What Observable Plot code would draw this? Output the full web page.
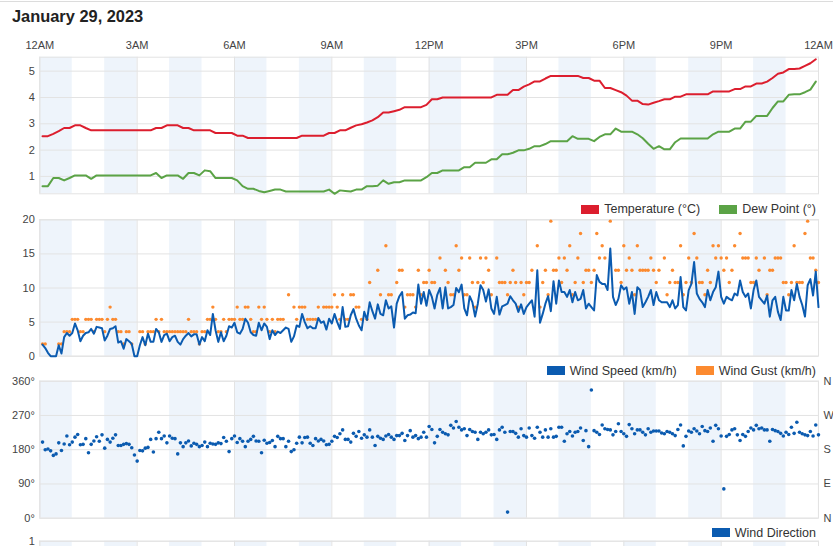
<!DOCTYPE html>
<html>
<head>
<meta charset="utf-8">
<script src="https://cdn.jsdelivr.net/npm/d3@7"></script>
<script src="https://cdn.jsdelivr.net/npm/@observablehq/plot@0.6"></script>
<style>
  body { margin: 0; background: #fff; font-family: "Liberation Sans", Arial, sans-serif; }
  #chart { position: relative; width: 833px; height: 546px; overflow: hidden; background: #fff; }
  #topline { position: absolute; left: 0; top: 1px; width: 833px; height: 1px; background: #dcdcdc; }
  #title { position: absolute; left: 12px; top: 7px; font-size: 16.4px; font-weight: bold; color: #222; }
  .panel { position: absolute; left: 0; }
  .panel svg { overflow: visible; }
  .legend { position: absolute; right: 17px; display: flex; align-items: center; font-size: 12.5px; color: #333; line-height: 1; }
  .legend .item { display: flex; align-items: center; margin-left: 19px; }
  .legend .sw { width: 18px; height: 9px; margin-right: 5px; }
</style>
</head>
<body>
<div id="chart">
  <div id="topline"></div>
  <div id="title">January 29, 2023</div>
</div>
<script>
// Hour ticks along the day and their labels
const hourTicks = [0, 3, 6, 9, 12, 15, 18, 21, 24];
const hourLabels = ["12AM", "3AM", "6AM", "9AM", "12PM", "3PM", "6PM", "9PM", "12AM"];
// Start of each shaded hour band
const shadedHours = [0, 2, 4, 6, 8, 10, 12, 14, 16, 18, 20, 22];

// Temperature and dew point (°C), every 10 minutes from 00:05
const temperature = [
  2.53, 2.53, 2.62, 2.72, 2.84, 2.84,
  2.94, 2.94, 2.84, 2.75, 2.75, 2.75,
  2.75, 2.75, 2.75, 2.75, 2.75, 2.75,
  2.75, 2.75, 2.75, 2.84, 2.84, 2.94,
  2.94, 2.94, 2.84, 2.84, 2.75, 2.75,
  2.75, 2.75, 2.65, 2.65, 2.65, 2.65,
  2.55, 2.55, 2.46, 2.46, 2.46, 2.46,
  2.46, 2.46, 2.46, 2.46, 2.46, 2.46,
  2.55, 2.55, 2.55, 2.55, 2.55, 2.65,
  2.65, 2.75, 2.75, 2.85, 2.94, 2.98,
  3.05, 3.13, 3.25, 3.43, 3.43, 3.48,
  3.53, 3.63, 3.63, 3.63, 3.63, 3.72,
  3.93, 3.93, 4.0, 4.0, 4.0, 4.0,
  4.0, 4.0, 4.0, 4.0, 4.0, 4.0,
  4.1, 4.1, 4.1, 4.28, 4.28, 4.41,
  4.5, 4.61, 4.61, 4.72, 4.82, 4.82,
  4.82, 4.82, 4.82, 4.82, 4.74, 4.74,
  4.64, 4.64, 4.36, 4.36, 4.28, 4.2,
  4.07, 3.88, 3.88, 3.75, 3.73, 3.8,
  3.86, 3.93, 3.93, 4.03, 4.03, 4.12,
  4.12, 4.12, 4.12, 4.12, 4.23, 4.23,
  4.23, 4.23, 4.32, 4.32, 4.42, 4.42,
  4.53, 4.53, 4.6, 4.74, 4.9, 4.95,
  5.08, 5.08, 5.1, 5.2, 5.3, 5.45
];
const dewPoint = [
  0.63, 0.63, 0.94, 0.94, 0.85, 0.94,
  1.04, 1.04, 1.04, 0.91, 1.04, 1.04,
  1.04, 1.04, 1.04, 1.04, 1.04, 1.04,
  1.04, 1.04, 1.04, 1.13, 0.94, 1.04,
  1.04, 1.04, 0.91, 1.13, 1.13, 1.04,
  1.23, 1.2, 0.94, 0.94, 0.94, 0.94,
  0.85, 0.63, 0.53, 0.53, 0.45, 0.4,
  0.45, 0.5, 0.5, 0.43, 0.43, 0.43,
  0.43, 0.43, 0.43, 0.43, 0.43, 0.5,
  0.34, 0.47, 0.45, 0.43, 0.5, 0.5,
  0.63, 0.63, 0.65, 0.85, 0.72, 0.78,
  0.78, 0.85, 0.85, 0.85, 0.85, 0.97,
  1.13, 1.13, 1.23, 1.23, 1.23, 1.23,
  1.35, 1.35, 1.52, 1.52, 1.52, 1.65,
  1.65, 1.84, 1.84, 1.9, 1.99, 1.99,
  2.05, 2.15, 2.15, 2.23, 2.34, 2.34,
  2.34, 2.34, 2.53, 2.43, 2.43, 2.43,
  2.34, 2.5, 2.6, 2.6, 2.82, 2.7,
  2.7, 2.7, 2.6, 2.45, 2.24, 2.05,
  2.15, 2.03, 2.03, 2.3, 2.44, 2.44,
  2.44, 2.44, 2.44, 2.44, 2.6, 2.7,
  2.7, 2.7, 2.82, 2.82, 3.08, 3.08,
  3.3, 3.3, 3.3, 3.6, 3.85, 3.85,
  4.1, 4.12, 4.12, 4.2, 4.3, 4.6
];

// Wind speed and gust (km/h), every 5 minutes from 00:05; null = no gust reported
const windSpeed = [
  1.7, 1.2, 0.5, 0, 0, 0, 1.6, 0.4, 2.8, 3.4, 3.0, 3.4,
  4.8, 3.8, 2.2, 3.0, 3.4, 3.5, 4.0, 3.3, 4.3, 4.2, 4.1, 2.3,
  3.0, 4.0, 4.1, 4.4, 2.0, 2.2, 1.1, 2.5, 2.2, 1.8, 0, 0,
  1.6, 2.8, 1.6, 3.3, 2.1, 2.1, 4.0, 3.5, 2.1, 3.1, 3.3, 2.2,
  2.8, 3.0, 2.1, 1.7, 2.5, 3.0, 3.4, 2.9, 3.2, 3.2, 1.7, 2.8,
  2.2, 3.8, 3.1, 6.2, 3.8, 2.1, 3.5, 2.2, 3.0, 4.4, 4.2, 4.9,
  3.5, 3.3, 4.0, 5.5, 4.9, 3.5, 3.1, 3.0, 4.9, 3.8, 4.8, 4.3,
  2.5, 3.8, 3.1, 3.6, 3.4, 3.8, 4.2, 4.0, 2.1, 2.9, 4.5, 4.3,
  6.2, 5.0, 4.1, 4.4, 4.1, 4.1, 5.6, 4.9, 5.1, 3.9, 5.5, 4.8,
  6.2, 5.0, 4.0, 7.2, 4.3, 4.4, 6.0, 6.9, 5.5, 4.5, 3.8, 6.5,
  5.3, 7.9, 6.6, 5.5, 7.6, 6.2, 6.0, 8.2, 7.0, 7.3, 4.2, 7.7,
  8.8, 9.4, 5.5, 6.0, 6.1, 6.4, 6.3, 10.5, 7.7, 9.4, 7.4, 9.7,
  8.7, 7.0, 9.0, 10.0, 7.0, 10.1, 7.0, 7.2, 7.5, 10.0, 9.4, 10.5,
  7.0, 6.0, 8.8, 7.9, 5.8, 7.7, 10.4, 9.7, 8.0, 9.8, 7.0, 6.2,
  8.7, 6.1, 7.3, 7.5, 7.7, 8.8, 8.2, 7.7, 6.5, 7.6, 6.2, 7.2,
  7.7, 8.2, 5.8, 12.6, 4.9, 6.2, 7.7, 8.8, 6.6, 11.0, 7.7, 11.1,
  9.4, 9.4, 8.7, 9.7, 7.9, 9.4, 8.2, 8.4, 9.7, 7.0, 7.7, 7.2,
  6.7, 11.9, 10.9, 10.6, 10.6, 9.7, 15.8, 8.7, 7.5, 8.4, 10.4, 9.8,
  10.1, 7.7, 9.4, 6.2, 10.1, 9.7, 7.2, 7.9, 8.7, 9.7, 7.5, 9.4,
  8.2, 7.9, 7.9, 7.9, 7.2, 8.2, 7.0, 7.5, 11.6, 7.2, 6.7, 9.7,
  10.6, 13.8, 9.2, 8.4, 7.9, 7.2, 9.7, 8.2, 9.4, 10.1, 12.4, 8.7,
  7.7, 8.7, 8.4, 8.2, 9.2, 8.9, 11.1, 9.4, 8.7, 9.2, 7.0, 9.7,
  11.1, 8.7, 8.2, 7.7, 8.9, 5.8, 8.2, 8.7, 6.5, 5.3, 8.7, 6.7,
  6.7, 9.7, 8.2, 10.6, 8.7, 7.5, 5.8, 10.4, 11.3, 8.9, 12.4, 7.2
];
const windGust = [
  1.8, 1.8, null, null, null, null, 1.8, 1.8, 3.6, 3.6, 3.6, 5.4,
  5.4, 5.4, 3.6, 3.6, 5.4, 5.4, 5.4, 3.6, 5.4, 5.4, 5.4, 3.6,
  5.4, 7.2, 5.4, 5.4, 3.6, 3.6, 1.8, 3.6, 3.6, 1.8, null, null,
  3.6, 3.6, 1.8, 3.6, 3.6, 3.6, 5.4, 3.6, 5.4, 3.6, 3.6, 3.6,
  3.6, 3.6, 3.6, 3.6, 3.6, 3.6, 5.4, 3.6, 3.6, 3.6, 1.8, 3.6,
  3.6, 5.4, 5.4, 7.2, 5.4, 3.6, 3.6, 5.4, 3.6, 5.4, 5.4, 5.4,
  7.2, 5.4, 5.4, 7.2, 7.2, 5.4, 3.6, 3.6, 7.2, 5.4, 7.2, 5.4,
  3.6, 5.4, 3.6, 5.4, 5.4, 5.4, null, 9, null, 7.2, 5.4, 7.2,
  7.2, 7.2, 5.4, 5.4, 5.4, 5.4, 7.2, null, 7.2, 7.2, 7.2, 7.2,
  9, 7.2, 5.4, 9, 5.4, 5.4, 9, 9, 7.2, 7.2, 5.4, null,
  5.4, 10.8, null, null, 12.6, 9, null, 16.2, 9, 9, 5.4, 10.8,
  12.6, 12.6, 7.2, 9, 9, 9, 7.2, 12.6, 9, 10.8, 10.8, 12.6,
  10.8, 10.8, null, 14.4, null, 12.6, 10.8, 9, 9, 16.2, 12.6, 14.4,
  9, 9, 14.4, 10.8, 7.2, 10.8, 14.4, 10.8, 14.4, 12.6, 9, null,
  14.4, 10.8, 10.8, 10.8, 9, 10.8, 12.6, 10.8, 7.2, 10.8, 9, 10.8,
  10.8, 12.6, null, 16.2, 7.2, 10.8, 12.6, 9, 19.8, 12.6, 12.6, 14.4,
  10.8, 14.4, 12.6, 16.2, 9, 10.8, 14.4, 18, 10.8, 12.6, 12.6, 10.8,
  12.6, 18, 14.4, 16.2, 14.4, null, 19.8, null, 12.6, 12.6, 10.8, 16.2,
  12.6, 14.4, 12.6, 9, 16.2, 12.6, 12.6, 12.6, 12.6, 14.4, 12.6, 10.8,
  12.6, null, 14.4, 9, 10.8, 12.6, 10.8, 10.8, 16.2, 9, 10.8, 14.4,
  10.8, 18, 14.4, 10.8, 10.8, 9, 12.6, 10.8, 16.2, 14.4, 16.2, 14.4,
  12.6, 14.4, 10.8, 12.6, 16.2, null, 18, 14.4, 14.4, 14.4, 10.8, 10.8,
  14.4, 12.6, null, 14.4, 9, 12.6, 12.6, 14.4, 14.4, 14.4, 10.8, 10.8,
  9, 10.8, 16.2, 10.8, 10.8, 10.8, 18, 19.8, 14.4, 14.4, 12.6, 10.8
];

// Wind direction (degrees), every 5 minutes from 00:05
const windDirection = [
  200, 180, 182, 177, 165, 169, 198, 178, 195, 216, 193, 200,
  213, 220, 193, 194, 209, 172, 194, 203, 214, 202, 219, 184,
  207, 200, 210, 219, 191, 191, 194, 196, 194, 185, 166, 150,
  178, 177, 184, 186, 207, 174, 209, 226, 209, 216, 198, 216,
  210, 209, 169, 198, 188, 198, 203, 190, 197, 194, 188, 191,
  200, 188, 197, 195, 194, 198, 196, 212, 202, 175, 209, 216,
  199, 209, 202, 188, 202, 207, 215, 203, 202, 172, 205, 197,
  199, 204, 188, 215, 209, 209, 188, 202, 175, 180, 197, 213,
  198, 212, 213, 197, 191, 209, 203, 207, 203, 193, 194, 202,
  215, 212, 222, 232, 207, 207, 200, 223, 215, 228, 210, 219,
  213, 232, 213, 191, 215, 210, 207, 216, 220, 213, 207, 217,
  217, 223, 204, 217, 230, 213, 217, 209, 213, 226, 213, 241,
  233, 198, 215, 233, 226, 222, 219, 244, 237, 254, 239, 232,
  235, 217, 233, 228, 226, 207, 226, 222, 226, 232, 219, 220,
  207, 232, 239, 226, 16, 228, 228, 223, 213, 235, 217, 213,
  237, 217, 210, 239, 226, 213, 232, 213, 235, 213, 215, 239,
  239, 202, 222, 228, 216, 226, 228, 237, 204, 230, 188, 337,
  230, 226, 220, 245, 235, 233, 232, 219, 228, 248, 228, 222,
  215, 246, 235, 222, 232, 232, 226, 219, 235, 226, 229, 229,
  229, 224, 222, 228, 226, 222, 217, 233, 245, 190, 215, 229,
  226, 235, 229, 222, 241, 230, 228, 237, 202, 244, 235, 216,
  77, 215, 220, 232, 235, 219, 204, 220, 215, 228, 237, 232,
  244, 235, 237, 232, 232, 202, 233, 230, 228, 223, 216, 226,
  220, 239, 223, 252, 226, 222, 219, 217, 228, 216, 245, 219
];

const tempTicks = [1, 2, 3, 4, 5];
const windTicks = [0, 5, 10, 15, 20];
const dirTicks = [0, 90, 180, 270, 360];
const compassLabels = ["N", "E", "S", "W", "N"];

const colors = {
  temperature: "#dc1e2e",
  dewPoint: "#5ba346",
  windSpeed: "#0b5bb0",
  windGust: "#fc8a2f",
  direction: "#0b5bb0",
  band: "#eef4fb",
  grid: "#e3e3e3",
  text: "#444"
};

// hours since midnight for the 10-minute and 5-minute series
const t10 = (d, i) => (5 + 10 * i) / 60;
const t5 = (d, i) => (5 * (i + 1)) / 60;

const chart = document.getElementById("chart");
const W = 833, ML = 39.3, MR = 15;
const intFormat = d => String(d);

function background(yTicks) {
  return [
    Plot.rect(shadedHours, {x1: d => d, x2: d => d + 1, fill: colors.band}),
    Plot.gridX(hourTicks, {stroke: colors.grid, strokeOpacity: 1}),
    Plot.gridY(yTicks, {stroke: colors.grid, strokeOpacity: 1}),
    Plot.frame({stroke: colors.grid})
  ];
}

function place(svg, top) {
  const wrap = document.createElement("div");
  wrap.className = "panel";
  wrap.style.top = top + "px";
  wrap.appendChild(svg);
  chart.appendChild(wrap);
}

function legend(top, items) {
  const div = document.createElement("div");
  div.className = "legend";
  div.style.top = top + "px";
  for (const [label, color] of items) {
    const item = document.createElement("div");
    item.className = "item";
    const sw = document.createElement("span");
    sw.className = "sw";
    sw.style.background = color;
    const tx = document.createElement("span");
    tx.textContent = label;
    item.appendChild(sw);
    item.appendChild(tx);
    div.appendChild(item);
  }
  chart.appendChild(div);
}

const baseStyle = {fontSize: "11px", fontFamily: '"Liberation Sans", Arial, sans-serif', color: colors.text, background: "transparent", overflow: "visible"};

// Panel 1: temperature and dew point
place(Plot.plot({
  width: W, height: 194,
  marginLeft: ML, marginRight: MR, marginTop: 56.7, marginBottom: 0.7,
  style: baseStyle,
  x: {domain: [0, 24]},
  y: {domain: [0.34, 5.53]},
  marks: [
    ...background(tempTicks),
    Plot.axisX({anchor: "top", ticks: hourTicks, tickSize: 0, tickPadding: 8,
      tickFormat: d => hourLabels[hourTicks.indexOf(d)], style: {letterSpacing: "-0.5px"}}),
    Plot.axisY({ticks: tempTicks, tickSize: 0, tickPadding: 5, tickFormat: intFormat}),
    Plot.line(dewPoint, {x: t10, y: d => d, stroke: colors.dewPoint, strokeWidth: 2}),
    Plot.line(temperature, {x: t10, y: d => d, stroke: colors.temperature, strokeWidth: 2})
  ]
}), 0);
legend(203, [["Temperature (°C)", colors.temperature], ["Dew Point (°)", colors.dewPoint]]);

// Panel 2: wind speed line with gust dots
place(Plot.plot({
  width: W, height: 156.4,
  marginLeft: ML, marginRight: MR, marginTop: 19.3, marginBottom: 0.7,
  style: baseStyle,
  x: {domain: [0, 24], axis: null},
  y: {domain: [0, 20]},
  marks: [
    ...background(windTicks),
    Plot.axisY({ticks: windTicks, tickSize: 0, tickPadding: 5, tickFormat: intFormat}),
    Plot.dot(windGust, {x: t5, y: d => d, r: 1.7, fill: colors.windGust, stroke: "none"}),
    Plot.line(windSpeed, {x: t5, y: d => d, stroke: colors.windSpeed, strokeWidth: 2})
  ]
}), 200);
legend(364.5, [["Wind Speed (km/h)", colors.windSpeed], ["Wind Gust (km/h)", colors.windGust]]);

// Panel 3: wind direction dots with compass labels on the right
place(Plot.plot({
  width: W, height: 148.7,
  marginLeft: ML, marginRight: MR, marginTop: 10.7, marginBottom: 1,
  style: baseStyle,
  x: {domain: [0, 24], axis: null},
  y: {domain: [0, 360]},
  marks: [
    ...background(dirTicks),
    Plot.axisY({ticks: dirTicks, tickSize: 0, tickPadding: 5, tickFormat: d => d + "°"}),
    Plot.axisY({anchor: "right", ticks: dirTicks, tickSize: 0, tickPadding: 5,
      tickFormat: d => compassLabels[dirTicks.indexOf(d)]}),
    Plot.dot(windDirection, {x: t5, y: d => d, r: 1.8, fill: colors.direction, stroke: "none"})
  ]
}), 370);
legend(526.5, [["Wind Direction", colors.direction]]);

// Panel 4: top edge of the next panel
place(Plot.plot({
  width: W, height: 80,
  marginLeft: ML, marginRight: MR, marginTop: 10.7, marginBottom: 10,
  style: baseStyle,
  x: {domain: [0, 24], axis: null},
  y: {domain: [0, 1]},
  marks: [
    ...background([0, 1]),
    Plot.axisY({ticks: [1], tickSize: 0, tickPadding: 5, tickFormat: intFormat})
  ]
}), 530);
</script>
</body>
</html>
